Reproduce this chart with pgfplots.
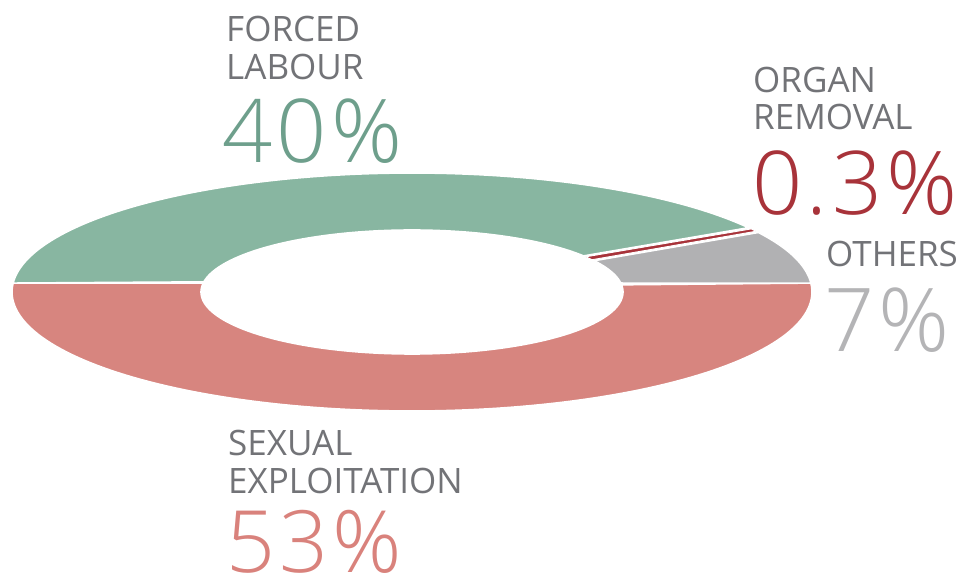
\documentclass[border=0pt]{standalone}
\usepackage{pgfplots}
\pgfplotsset{compat=1.18}
\usepackage{fontspec}
\setmainfont{Open Sans}
\newfontfamily\lightfont[LetterSpace=5]{Open Sans Light}
\definecolor{cgreen}{HTML}{88B6A1}
\definecolor{cred}{HTML}{D7857F}
\definecolor{cgrey}{HTML}{B1B1B3}
\definecolor{corgan}{HTML}{A8333A}
\definecolor{ctext}{HTML}{727377}
\definecolor{tgreen}{HTML}{6E9F8C}
\definecolor{tred}{HTML}{D9827C}
\definecolor{tgrey}{HTML}{B4B4B6}
% sector: colour, outer start, outer end, inner start, inner end (degrees)
\newcommand{\sector}[6][1.6pt]{%
\addplot[fill=#2, draw=white, line width=#1, line join=round, domain=0:2, samples=241, variable=\t]
 ({412 + (\t<1 ? 400*cos(#3+(#4-#3)*\t) : 211*cos(#6-(#6-#5)*(\t-1)))},
  {290 + (\t<1 ? 119*sin(#3+(#4-#3)*\t) : 62*sin(#6-(#6-#5)*(\t-1)))}) -- cycle;}
\begin{document}
\begin{tikzpicture}
\begin{axis}[at={(0,0)}, anchor=south west, x=1pt, y=1pt,
  xmin=0, xmax=961, ymin=0, ymax=582, hide axis, clip=false]
% Sexual exploitation 53%, forced labour 40%, others 7%, organ removal 0.3%
\sector{cred}{175.7}{364.3}{171.7}{368.3}
\sector{cgrey}{4.3}{30.0}{8.3}{30.5}
\sector[0.9pt]{corgan}{30.7}{32.0}{31.4}{34.6}
\sector{cgreen}{32.7}{175.7}{35.6}{171.7}
\node[anchor=base west, inner sep=0, text=ctext, font=\fontsize{35}{38}\selectfont, align=left] at (axis cs:226,540) {FORCED};
\node[anchor=base west, inner sep=0, text=ctext, font=\fontsize{35}{38}\selectfont] at (axis cs:226,502) {LABOUR};
\node[anchor=base west, inner sep=0, text=tgreen, font=\lightfont\fontsize{88}{90}\selectfont] at (axis cs:222,419) {40\%};
\node[anchor=base west, inner sep=0, text=ctext, font=\fontsize{35}{38}\selectfont] at (axis cs:753,489) {ORGAN};
\node[anchor=base west, inner sep=0, text=ctext, font=\fontsize{35}{38}\selectfont] at (axis cs:753,452) {REMOVAL};
\node[anchor=base west, inner sep=0, text=corgan, font=\lightfont\fontsize{88}{90}\selectfont] at (axis cs:752,367) {0.3\%};
\node[anchor=base west, inner sep=0, text=ctext, font=\fontsize{35}{38}\selectfont] at (axis cs:826,315) {OTHERS};
\node[anchor=base west, inner sep=0, text=tgrey, font=\lightfont\fontsize{88}{90}\selectfont] at (axis cs:824,231) {7\%};
\node[anchor=base west, inner sep=0, text=ctext, font=\fontsize{35}{38}\selectfont] at (axis cs:228,127) {SEXUAL};
\node[anchor=base west, inner sep=0, text=ctext, font=\fontsize{35}{38}\selectfont] at (axis cs:228,89) {EXPLOITATION};
\node[anchor=base west, inner sep=0, text=tred, font=\lightfont\fontsize{86}{90}\selectfont] at (axis cs:226,10) {53\%};
\end{axis}
\pgfresetboundingbox
\path[use as bounding box] (0,0) rectangle (961pt,582pt);
\end{tikzpicture}
\end{document}
